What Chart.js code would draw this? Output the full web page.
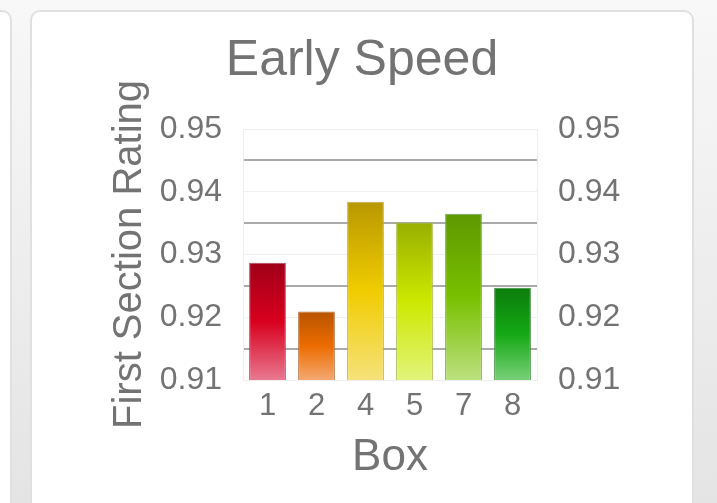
<!DOCTYPE html>
<html lang="en">
<head>
    <meta charset="UTF-8">
    <title>Early Speed</title>
    <script src="https://cdn.jsdelivr.net/npm/chart.js"></script>
    <style>
        html, body {
        margin: 0;
        padding: 0;
        width: 717px;
        height: 503px;
        overflow: hidden;
        background: linear-gradient(#f8f8f8, #e4e4e4);
        }
        .card {
        position: absolute;
        background-color: #fff;
        border: 2px solid #e0e0e0;
        border-radius: 10px;
        }
        .left-card { left: -40px; top: 10px; width: 48px; height: 560px; }
        .main-card { left: 30px; top: 10px; width: 660px; height: 560px; }
        .chart-box {
        position: absolute;
        left: 0;
        top: 0;
        width: 717px;
        height: 503px;
        }
    </style>
</head>
<body>
    <div class="card left-card"></div>
    <div class="card main-card"></div>
    <div class="chart-box"><canvas id="chart"></canvas></div>
    <script>
        // chart data
        const boxes = ['1', '2', '4', '5', '7', '8'];
        const ratings = [0.9287, 0.9209, 0.9384, 0.9351, 0.9365, 0.9247];
        const yTicks = [0.91, 0.92, 0.93, 0.94, 0.95];

        // bar gradient colours: top, middle, bottom, edge
        const topColors = ['#a00018', '#b85400', '#b89800', '#98b000', '#5e9800', '#0c7c0c'];
        const midColors = ['#d8001e', '#ec6c00', '#f0cc00', '#cce800', '#78c000', '#14a814'];
        const lowColors = ['#e87890', '#f4a870', '#f6e27a', '#e2f47a', '#bce080', '#78d078'];
        const edgeColors = ['#b04a5c', '#b8703c', '#c4aa44', '#a8bc44', '#78a444', '#3c8c3c'];

        const textColor = '#737373';
        Chart.defaults.font.family = "'Liberation Sans', Arial, sans-serif";
        Chart.defaults.color = textColor;

        function isLabelTick(value) {
            return yTicks.some(t => Math.abs(t - value) < 1e-6);
        }

        function barFill(context) {
            const i = context.dataIndex;
            const chart = context.chart;
            if (!chart.chartArea || !chart.scales.y) {
                return midColors[i];
            }
            const yScale = chart.scales.y;
            const top = yScale.getPixelForValue(ratings[i]);
            const bottom = yScale.bottom;
            const g = chart.ctx.createLinearGradient(0, top, 0, bottom);
            g.addColorStop(0, topColors[i]);
            g.addColorStop(0.5, midColors[i]);
            g.addColorStop(1, lowColors[i]);
            return g;
        }

        const yTickOptions = {
            stepSize: 0.005,
            autoSkip: false,
            padding: 21,
            font: { size: 32 },
            color: textColor,
            callback: function (value) {
                return isLabelTick(value) ? value.toFixed(2) : '';
            }
        };

        new Chart(document.getElementById('chart'), {
            type: 'bar',
            data: {
                labels: boxes,
                datasets: [{
                    label: 'First Section Rating',
                    data: ratings,
                    backgroundColor: barFill,
                    borderColor: edgeColors,
                    borderWidth: 1,
                    borderSkipped: false,
                    barPercentage: 0.75,
                    categoryPercentage: 1.0
                }]
            },
            options: {
                responsive: true,
                maintainAspectRatio: false,
                animation: false,
                events: [],
                layout: {
                    padding: { top: 0, left: 100, right: 93, bottom: 19 }
                },
                plugins: {
                    legend: { display: false },
                    tooltip: { enabled: false },
                    title: {
                        display: true,
                        text: 'Early Speed',
                        color: textColor,
                        font: { size: 50, weight: 'normal' },
                        padding: { top: 31, bottom: 38 }
                    }
                },
                scales: {
                    x: {
                        grid: { display: false },
                        border: { color: '#eeeeee' },
                        ticks: { padding: 0, font: { size: 31 }, color: textColor },
                        title: {
                            display: true,
                            text: 'Box',
                            color: textColor,
                            font: { size: 44 },
                            padding: { top: 6, bottom: 0 }
                        }
                    },
                    y: {
                        position: 'left',
                        min: 0.91,
                        max: 0.95,
                        border: { color: '#eeeeee' },
                        grid: {
                            drawTicks: false,
                            color: ctx => isLabelTick(ctx.tick.value) ? '#f0f0f0' : '#aaaaaa',
                            lineWidth: ctx => isLabelTick(ctx.tick.value) ? 1 : 2
                        },
                        ticks: yTickOptions,
                        title: {
                            display: true,
                            text: 'First Section Rating',
                            color: textColor,
                            font: { size: 40 },
                            padding: { top: 6, bottom: 8 }
                        },
                        afterFit: function (scale) {
                            scale.width = 143;
                        }
                    },
                    y2: {
                        position: 'right',
                        min: 0.91,
                        max: 0.95,
                        border: { color: '#eeeeee' },
                        grid: { display: false, drawTicks: false },
                        ticks: yTickOptions,
                        afterFit: function (scale) {
                            scale.width = 87;
                        }
                    }
                }
            }
        });
    </script>
</body>
</html>
